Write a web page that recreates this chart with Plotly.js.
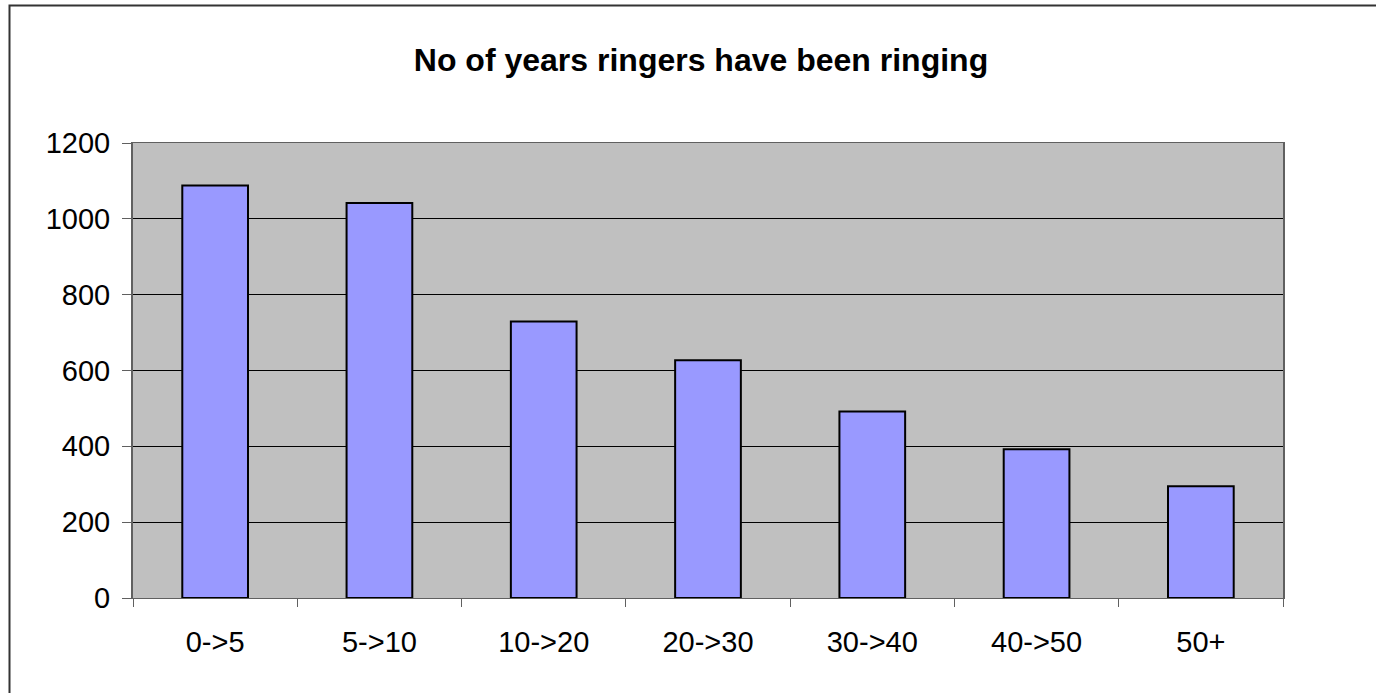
<!DOCTYPE html>
<html>
<head>
<meta charset="utf-8">
<script src="https://cdn.plot.ly/plotly-3.0.1.min.js"></script>
<style>html,body{margin:0;padding:0;background:#fff;}#chart{width:1376px;height:693px;}</style>
</head>
<body>
<div id="chart"></div>
<script>
const categories = ["0->5", "5->10", "10->20", "20->30", "30->40", "40->50", "50+"];
const ringers = [1088, 1042, 729, 627, 492, 392, 295];
const yTicks = [0, 200, 400, 600, 800, 1000, 1200];
const chartTitle = "No of years ringers have been ringing";

const trace = {
  type: "bar",
  x: categories,
  y: ringers,
  marker: { color: "#9999ff", line: { color: "#000000", width: 2 } },
  hoverinfo: "x+y"
};

const layout = {
  width: 1376,
  height: 693,
  paper_bgcolor: "#ffffff",
  plot_bgcolor: "#c0c0c0",
  margin: { l: 133, r: 93, t: 143, b: 95 },
  bargap: 0.6,
  showlegend: false,
  font: { family: "Liberation Sans, Arial, sans-serif", color: "#000000", size: 29 },
  title: {
    text: "<b>" + chartTitle + "</b>",
    font: { family: "Liberation Sans, Arial, sans-serif", size: 32, color: "#000000" },
    x: 701 / 1376, xref: "container", xanchor: "center",
    y: 1 - 60 / 693, yref: "container", yanchor: "middle"
  },
  xaxis: {
    type: "category",
    showline: true, linecolor: "#606060", linewidth: 1, mirror: true,
    ticks: "outside", tickson: "boundaries", ticklen: 8, tickcolor: "#606060",
    ticklabelstandoff: 18,
    showgrid: false, zeroline: false,
    tickfont: { size: 29 }
  },
  yaxis: {
    range: [0, 1200],
    tickvals: yTicks,
    showline: true, linecolor: "#606060", linewidth: 2, mirror: true,
    ticks: "outside", ticklen: 9, tickcolor: "#606060",
    ticklabelstandoff: 6,
    showgrid: true, gridcolor: "#000000", gridwidth: 1,
    zeroline: false,
    tickfont: { size: 29 }
  },
  shapes: [{
    type: "rect", xref: "paper", yref: "paper",
    x0: (9.5 - 133) / 1150, x1: 2,
    y0: -2, y1: (598 - 5.5) / 455,
    line: { color: "#333333", width: 2 }, fillcolor: "rgba(0,0,0,0)", layer: "below"
  }]
};

Plotly.newPlot("chart", [trace], layout, { displayModeBar: false, staticPlot: true });
</script>
</body>
</html>
